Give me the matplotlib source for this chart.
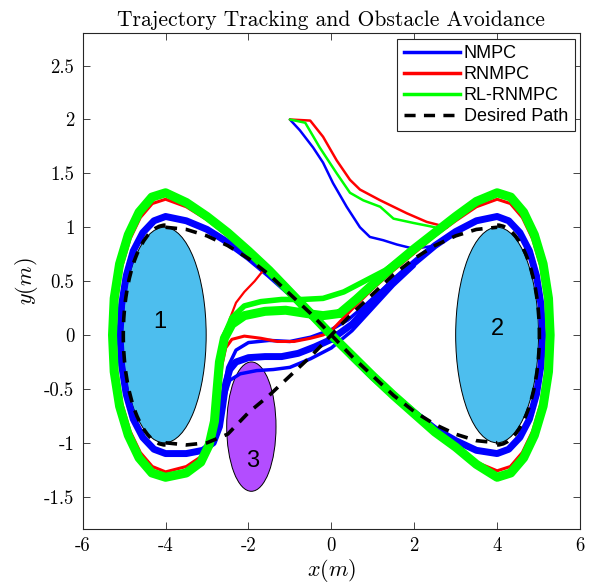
import matplotlib
matplotlib.use("Agg")
import matplotlib.pyplot as plt
from matplotlib.patches import Ellipse, Arc
from matplotlib.lines import Line2D

plt.rcParams['mathtext.fontset'] = 'cm'

# ---------------- data ----------------
obstacles = [  # (cx, cy, width, height, color, label)
    (-4.03, 0.0, 2.02, 2.0, '#4DBEEE', '1'),
    (4.0, 0.0, 2.0, 2.0, '#4DBEEE', '2'),
    (-1.93, -0.85, 1.19, 1.2, '#B34DFF', '3'),
]
label_pos = {'1': (-4.13, 0.12), '2': (4.0, 0.06), '3': (-1.9, -1.17)}

# desired path: two crossing connectors; lobes are half ellipses around obstacles 1 & 2
des_conn_x = [-4.0, -3.5, -3.0, -2.5, -2.0, -1.5, -1.0, -0.5, 0.0, 0.5, 1.0, 1.5, 2.0, 2.5, 3.0, 3.5, 4.0]
des_conn_y = [1.0, 0.98, 0.92, 0.83, 0.71, 0.56, 0.38, 0.2, 0.0, -0.2, -0.38, -0.56, -0.71, -0.83, -0.92, -0.98, -1.0]
des_conn2_y = [-1.0, -1.02, -1.0, -0.92, -0.72, -0.56, -0.38, -0.2, 0.0, 0.2, 0.38, 0.56, 0.71, 0.83, 0.92, 0.98, 1.0]

# NMPC (blue) representative lap
nmpc_x = [0.0, 0.5, 1.0, 1.5, 2.0, 2.5, 3.0, 3.5,
          4.0, 4.28, 4.55, 4.78, 4.95, 5.06, 5.1, 5.06, 4.95, 4.78, 4.55, 4.28, 4.0,
          3.5, 3.0, 2.5, 2.0, 1.5, 1.0, 0.5, 0.0, -0.5, -1.0, -1.5, -2.0, -2.5, -3.0, -3.5,
          -4.0, -4.28, -4.55, -4.78, -4.95, -5.06, -5.1, -5.06, -4.95, -4.78, -4.55, -4.28, -4.0,
          -3.5, -3.1, -2.85, -2.7, -2.62, -2.55, -2.45, -2.3, -2.0, -1.6, -1.2, -0.8, -0.4, 0.0]
nmpc_y = [-0.04, 0.1, 0.3, 0.5, 0.67, 0.83, 0.96, 1.06,
          1.1, 1.06, 0.95, 0.78, 0.55, 0.28, 0.0, -0.28, -0.55, -0.78, -0.95, -1.06, -1.1,
          -1.07, -0.98, -0.87, -0.72, -0.56, -0.39, -0.2, 0.0, 0.2, 0.39, 0.56, 0.72, 0.86, 0.98, 1.06,
          1.1, 1.06, 0.95, 0.78, 0.55, 0.28, 0.0, -0.28, -0.55, -0.78, -0.95, -1.06, -1.1,
          -1.1, -1.07, -1.0, -0.85, -0.65, -0.45, -0.32, -0.25, -0.21, -0.2, -0.2, -0.17, -0.11, -0.04]
# other NMPC laps around obstacle 3 (upper / lower edge of the band)
nmpc_hook_hi_x = [-2.62, -2.5, -2.3, -2.0, -1.5, -1.0, -0.5, 0.0, 0.4, 0.8, 1.2, 1.6]
nmpc_hook_hi_y = [-0.55, -0.3, -0.14, -0.07, -0.05, -0.06, -0.02, 0.05, 0.14, 0.27, 0.41, 0.55]
nmpc_hook_lo_x = [-2.6, -2.45, -2.2, -1.8, -1.4, -1.0, -0.5, 0.0, 0.5, 1.0, 1.5, 2.0]
nmpc_hook_lo_y = [-0.6, -0.42, -0.36, -0.33, -0.32, -0.3, -0.22, -0.12, 0.04, 0.25, 0.46, 0.64]
nmpc_start_x = [-1.0, -0.76, -0.44, -0.2, 0.04, 0.37, 0.69, 0.93, 1.25, 1.58, 2.0, 2.5]
nmpc_start_y = [2.0, 1.9, 1.74, 1.6, 1.41, 1.19, 1.0, 0.91, 0.88, 0.84, 0.8, 0.83]

# RNMPC (red) representative lap
rnmpc_x = [0.0, 0.5, 1.0, 1.5, 2.0, 2.5, 3.0, 3.5,
           4.0, 4.32, 4.61, 4.86, 5.06, 5.18, 5.22, 5.18, 5.06, 4.86, 4.61, 4.32, 4.0,
           3.5, 3.0, 2.5, 2.0, 1.5, 1.0, 0.5, 0.0, -0.5, -1.0, -1.5, -2.0, -2.5, -3.0, -3.5,
           -4.0, -4.32, -4.61, -4.86, -5.06, -5.18, -5.22, -5.18, -5.06, -4.86, -4.61, -4.32, -4.0,
           -3.5, -3.15, -2.92, -2.78, -2.7, -2.64, -2.55, -2.4, -2.1, -1.7, -1.3, -0.9, -0.5, -0.2, 0.0]
rnmpc_y = [0.04, 0.24, 0.43, 0.6, 0.76, 0.92, 1.06, 1.19,
           1.26, 1.22, 1.09, 0.89, 0.63, 0.33, 0.0, -0.33, -0.63, -0.89, -1.09, -1.22, -1.26,
           -1.18, -1.04, -0.9, -0.74, -0.57, -0.39, -0.2, 0.0, 0.2, 0.4, 0.58, 0.76, 0.92, 1.07, 1.19,
           1.26, 1.22, 1.09, 0.89, 0.63, 0.33, 0.0, -0.33, -0.63, -0.89, -1.09, -1.22, -1.27,
           -1.22, -1.13, -0.98, -0.75, -0.5, -0.28, -0.12, -0.04, -0.01, -0.03, -0.06, -0.06, -0.03, 0.0, 0.04]
# an RNMPC lap that cut from the obstacle-3 detour into the upper-left connector
rnmpc_alt_x = [-2.72, -2.6, -2.45, -2.3, -2.1, -1.85, -1.6]
rnmpc_alt_y = [-0.5, -0.15, 0.15, 0.3, 0.4, 0.5, 0.62]
rnmpc_start_x = [-1.0, -0.51, -0.2, 0.13, 0.45, 0.69, 1.18, 1.82, 2.3, 2.8]
rnmpc_start_y = [2.0, 1.99, 1.84, 1.62, 1.44, 1.35, 1.25, 1.13, 1.05, 1.0]

# RL-RNMPC (green) representative lap
rl_x = [0.2, 0.6, 1.0, 1.5, 2.0, 2.5, 3.0, 3.5,
        4.0, 4.33, 4.64, 4.9, 5.11, 5.24, 5.28, 5.24, 5.11, 4.9, 4.64, 4.33, 4.0,
        3.5, 3.0, 2.5, 2.0, 1.5, 1.0, 0.5, 0.0, -0.5, -1.0, -1.5, -2.0, -2.5, -3.0, -3.5,
        -4.0, -4.33, -4.64, -4.9, -5.11, -5.24, -5.28, -5.24, -5.11, -4.9, -4.64, -4.33, -4.0,
        -3.5, -3.15, -2.95, -2.82, -2.76, -2.7, -2.58, -2.4, -2.1, -1.6, -1.1, -0.6, -0.2, 0.2]
rl_y = [0.2, 0.33, 0.47, 0.64, 0.8, 0.95, 1.1, 1.24,
        1.32, 1.28, 1.14, 0.93, 0.66, 0.34, 0.0, -0.34, -0.66, -0.93, -1.14, -1.28, -1.32,
        -1.2, -1.04, -0.9, -0.73, -0.56, -0.38, -0.19, 0.0, 0.2, 0.4, 0.6, 0.78, 0.95, 1.1, 1.23,
        1.32, 1.28, 1.14, 0.93, 0.66, 0.34, 0.0, -0.34, -0.66, -0.93, -1.14, -1.28, -1.32,
        -1.28, -1.18, -1.02, -0.8, -0.52, -0.25, -0.03, 0.1, 0.18, 0.22, 0.23, 0.2, 0.18, 0.2]
# other RL-RNMPC laps (upper edge of the band after obstacle 3)
rl_hook_hi_x = [-2.72, -2.6, -2.4, -2.1, -1.7, -1.2, -0.7, -0.2, 0.3, 0.8, 1.3, 1.8, 2.3, 2.8]
rl_hook_hi_y = [-0.3, -0.02, 0.16, 0.27, 0.31, 0.33, 0.33, 0.34, 0.4, 0.5, 0.6, 0.74, 0.89, 1.03]
rl_start_x = [-1.0, -0.63, -0.28, 0.13, 0.45, 0.77, 1.18, 1.5, 1.98, 2.5]
rl_start_y = [2.0, 1.97, 1.74, 1.5, 1.32, 1.25, 1.19, 1.08, 1.04, 1.0]

xticks = [-6, -4, -2, 0, 2, 4, 6]
yticks = [-1.5, -1, -0.5, 0, 0.5, 1, 1.5, 2, 2.5]

# ---------------- plotting ----------------
fig = plt.figure(figsize=(5.97, 5.87), dpi=100)
ax = fig.add_axes([0.1385, 0.0988, 0.833, 0.8445])

for cx, cy, w, h, col, lab in obstacles:
    ax.add_patch(Ellipse((cx, cy), w, h, facecolor=col, edgecolor='black', lw=0.7, zorder=1))
    lx, ly = label_pos[lab]
    ax.text(lx, ly, lab, fontsize=17, family='Liberation Sans', ha='center', va='center', zorder=6)

kw = dict(solid_joinstyle='round', solid_capstyle='round')
BLUE, RED, GREEN = '#0000FF', '#FF0000', '#00FF00'
ax.plot(nmpc_x, nmpc_y, color=BLUE, lw=5, zorder=2, **kw)
ax.plot(nmpc_hook_hi_x, nmpc_hook_hi_y, color=BLUE, lw=2.5, zorder=2, **kw)
ax.plot(nmpc_hook_lo_x, nmpc_hook_lo_y, color=BLUE, lw=2.5, zorder=2, **kw)
ax.plot(nmpc_start_x, nmpc_start_y, color=BLUE, lw=1.8, zorder=2, **kw)
ax.plot(rnmpc_x, rnmpc_y, color=RED, lw=2.2, zorder=3, **kw)
ax.plot(rnmpc_alt_x, rnmpc_alt_y, color=RED, lw=1.6, zorder=3, **kw)
ax.plot(rnmpc_start_x, rnmpc_start_y, color=RED, lw=1.8, zorder=3, **kw)
ax.plot(rl_x, rl_y, color=GREEN, lw=6.5, zorder=4, **kw)
ax.plot(rl_hook_hi_x, rl_hook_hi_y, color=GREEN, lw=4, zorder=4, **kw)
ax.plot(rl_start_x, rl_start_y, color=GREEN, lw=1.8, zorder=4, **kw)

dash = dict(color='black', lw=2.6, dashes=(3.2, 2.4), zorder=5)
ax.plot(des_conn_x, des_conn_y, **dash)
ax.plot(des_conn_x, des_conn2_y, **dash)
ax.add_patch(Arc((4.0, 0.0), 2.04, 2.04, theta1=-90, theta2=90, edgecolor='black', lw=2.6,
                 linestyle=(0, (3.2, 2.4)), zorder=5))
ax.add_patch(Arc((-4.0, 0.0), 2.04, 2.04, theta1=90, theta2=270, edgecolor='black', lw=2.6,
                 linestyle=(0, (3.2, 2.4)), zorder=5))

ax.set_xlim(-6, 6)
ax.set_ylim(-1.8, 2.8)
ax.set_xticks(xticks)
ax.set_xticklabels([f'{t:g}' for t in xticks], family='cmr10', fontsize=13.5)
ax.set_yticks(yticks)
ax.set_yticklabels([f'{t:g}' for t in yticks], family='cmr10', fontsize=13.5)
ax.tick_params(direction='in', length=5, width=0.6, top=True, right=True, colors='#262626',
               labelcolor='black', pad=6)
for s in ax.spines.values():
    s.set_color('#262626')
    s.set_linewidth(0.8)

ax.set_title('Trajectory Tracking and Obstacle Avoidance', family='cmr10', fontsize=15.5, pad=5)
ax.set_xlabel(r'$x(m)$', fontsize=16, labelpad=1)
ax.set_ylabel(r'$y(m)$', fontsize=16, labelpad=3)

handles = [Line2D([], [], color=BLUE, lw=2.5),
           Line2D([], [], color=RED, lw=2.5),
           Line2D([], [], color=GREEN, lw=2.5),
           Line2D([], [], color='black', lw=2.5, dashes=(3.2, 2.4))]
leg = ax.legend(handles, ['NMPC', 'RNMPC', 'RL-RNMPC', 'Desired Path'], loc='upper right',
                prop={'family': 'Liberation Sans', 'size': 13}, frameon=True, fancybox=False,
                edgecolor='#262626', framealpha=1, handlelength=3.15, handletextpad=0.2,
                borderpad=0.35, labelspacing=0.22, borderaxespad=0.3)
leg.get_frame().set_linewidth(0.8)

fig.savefig('out.png', dpi=100)
